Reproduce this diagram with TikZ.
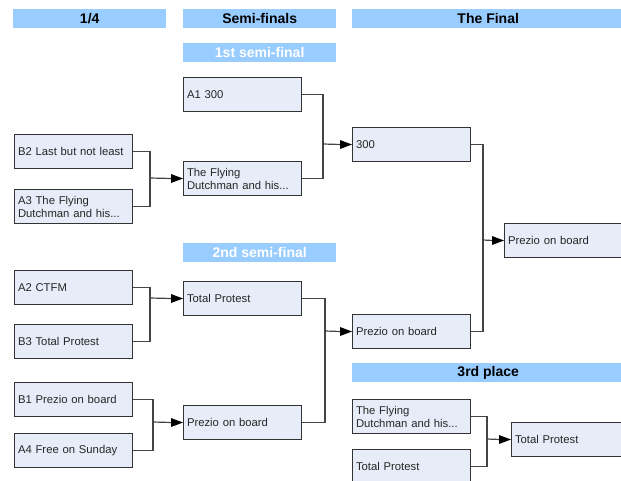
\documentclass[tikz,border=0pt]{standalone}
\usepackage{fontspec}
\setmainfont{Liberation Sans}
\definecolor{hdr}{HTML}{99CCFF}
\definecolor{boxfill}{HTML}{E6EDF8}
\definecolor{boxline}{HTML}{333333}
\definecolor{conn}{HTML}{444444}
\tikzset{
  hdrbox/.style={fill=hdr, draw=none, anchor=north west, minimum height=19pt, inner sep=0pt,
    font=\fontsize{14}{16}\selectfont\bfseries, text=black},
  subhdr/.style={hdrbox, text=white},
  teambox/.style={draw=boxline, line width=1pt, fill=boxfill, anchor=north west,
    minimum width=118pt, minimum height=34pt, text width=111pt, inner xsep=3.5pt, inner ysep=0pt,
    align=left, font=\fontsize{11.3}{13}\selectfont, text=black!85},
  conline/.style={draw=conn, line width=1.2pt},
  tipfill/.style={fill=black}
}
\newcommand\arrowto[2]{%
  \draw[conline] (#1) -- ([xshift=-11pt]#2);
  \fill[tipfill] (#2) -- ++(-12,-4.5) -- ++(0,9) -- cycle;}
\begin{document}
\begin{tikzpicture}[x=1pt,y=-1pt]
\useasboundingbox (0,0) rectangle (621,480);
% headers
\node[hdrbox, minimum width=153pt] (h1) at (13,9) {1/4};
\node[hdrbox, minimum width=153pt] (h2) at (183,9) {Semi-finals};
\node[hdrbox, minimum width=272pt] (h3) at (352,9) {The Final};
\node[subhdr, minimum width=153pt] (h4) at (183,43) {1st semi-final};
\node[subhdr, minimum width=153pt] (h5) at (183,243) {2nd semi-final};
\node[hdrbox, minimum width=272pt] (h6) at (352,363) {3rd place};
% quarter finals
\node[teambox] (b2) at (14,134) {B2 Last but not least};
\node[teambox] (a3) at (14,189) {A3 The Flying\\Dutchman and his...};
\node[teambox] (a2) at (14,270) {A2 CTFM};
\node[teambox] (b3) at (14,324) {B3 Total Protest};
\node[teambox] (b1) at (14,382) {B1 Prezio on board};
\node[teambox] (a4) at (14,433) {A4 Free on Sunday};
% semi finals
\node[teambox] (a1) at (183,77) {A1 300};
\node[teambox] (s1) at (183,161) {The Flying\\Dutchman and his...};
\node[teambox] (s2) at (183,281) {Total Protest};
\node[teambox] (s3) at (183,405) {Prezio on board};
% final
\node[teambox] (f1) at (352,127) {300};
\node[teambox] (f2) at (352,314) {Prezio on board};
\node[teambox] (w) at (504,223) {Prezio on board};
% third place
\node[teambox] (t1) at (352,399) {The Flying\\Dutchman and his...};
\node[teambox] (t2) at (352,449) {Total Protest};
\node[teambox] (t3) at (511,422) {Total Protest};
% junctions
\coordinate (j1) at (150,178);
\coordinate (j2) at (150,298);
\coordinate (j3) at (153,422);
\coordinate (j4) at (323,144);
\coordinate (j5) at (325,331);
\coordinate (j6) at (483,240);
\coordinate (j7) at (487,439);
% connectors
\draw[conline] (b2.east) -| (j1) |- (a3.east);
\arrowto{j1}{s1.west}
\draw[conline] (a2.east) -| (j2) |- (b3.east);
\arrowto{j2}{s2.west}
\draw[conline] (b1.east) -| (j3) |- (a4.east);
\arrowto{j3}{s3.west}
\draw[conline] (a1.east) -| (j4) |- (s1.east);
\arrowto{j4}{f1.west}
\draw[conline] (s2.east) -| (j5) |- (s3.east);
\arrowto{j5}{f2.west}
\draw[conline] (f1.east) -| (j6) |- (f2.east);
\arrowto{j6}{w.west}
\draw[conline] (t1.east) -| (j7) |- (t2.east);
\arrowto{j7}{t3.west}
\end{tikzpicture}
\end{document}
